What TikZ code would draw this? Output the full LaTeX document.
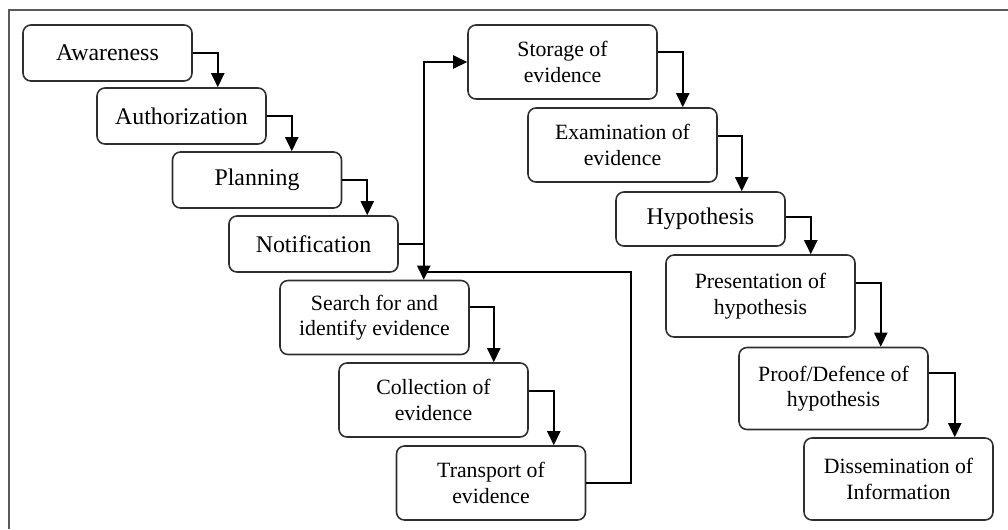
\documentclass[tikz,border=0pt]{standalone}
\usepackage{fontspec}
\setmainfont{Liberation Serif}
\usetikzlibrary{arrows.meta}
\definecolor{boxline}{HTML}{2E2E2E}
\definecolor{frameline}{HTML}{5A5A5A}

\begin{document}
\begin{tikzpicture}[x=0.02cm,y=-0.02cm]
    \tikzset{stage/.style={draw=boxline,line width=0.9pt,rounded corners=4.5pt,align=center,minimum width=3.38cm,minimum height=1.12cm,inner sep=2pt,font=\fontsize{13.6}{15}\selectfont},
      stagetwo/.style={stage,minimum width=3.78cm,minimum height=1.48cm,font=\fontsize{12.4}{14.6}\selectfont},
      stagetall/.style={stagetwo,minimum height=1.64cm},
      flowline/.style={draw=black,line width=0.9pt,-{Triangle[length=8pt,width=7.5pt]}}}
    \useasboundingbox (0,0) rectangle (1008,529);
    % frame, cut off at the right and bottom
    \draw[frameline,line width=1.1pt] (9,529) -- (9,10) -- (1008,10);
    % left column
    \node[stage] (aw) at (107.5,53) {Awareness};
    \node[stage] (au) at (181.5,116) {Authorization};
    \node[stage] (pl) at (257,180) {Planning};
    \node[stage] (no) at (313.5,244) {Notification};
    \node[stagetwo] (se) at (374.5,317.5) {Search for and\\identify evidence};
    \node[stagetwo] (co) at (433.5,400) {Collection of\\evidence};
    \node[stagetwo] (tr) at (491,483) {Transport of\\evidence};
    % right column
    \node[stagetwo] (st) at (562.5,62) {Storage of\\evidence};
    \node[stagetwo] (ex) at (622.5,145) {Examination of\\evidence};
    \node[stage,minimum height=1.08cm] (hy) at (700.5,219) {Hypothesis};
    \node[stagetall] (pr) at (760.5,296) {Presentation of\\hypothesis};
    \node[stagetall] (pf) at (833.5,388.5) {Proof/Defence of\\hypothesis};
    \node[stagetall] (di) at (898.5,479) {Dissemination of\\Information};
    % steps
    \draw[flowline] (aw.east) -| ([xshift=0.5cm]aw.east |- au.north);
    \draw[flowline] (au.east) -| ([xshift=0.5cm]au.east |- pl.north);
    \draw[flowline] (pl.east) -| ([xshift=0.5cm]pl.east |- no.north);
    \draw[flowline] (no.east) -| ([xshift=0.5cm]no.east |- se.north);
    \draw[flowline] ([yshift=0.21cm]se.east) -| ([xshift=0.48cm]se.east |- co.north);
    \draw[flowline] ([yshift=0.18cm]co.east) -| ([xshift=0.5cm]co.east |- tr.north);
    \draw[flowline] ([yshift=0.2cm]st.east) -| ([xshift=0.5cm]st.east |- ex.north);
    \draw[flowline] ([yshift=0.18cm]ex.east) -| ([xshift=0.48cm]ex.east |- hy.north);
    \draw[flowline] ([yshift=0.04cm]hy.east) -| ([xshift=0.5cm]hy.east |- pr.north);
    \draw[flowline] ([yshift=0.26cm]pr.east) -| ([xshift=0.5cm]pr.east |- pf.north);
    \draw[flowline] ([yshift=0.31cm]pf.east) -| ([xshift=0.52cm]pf.east |- di.north);
    % loop back from transport to storage
    \coordinate (back) at ([xshift=0.9cm]tr.east |- 0,272);
    \coordinate (join) at ([xshift=0.5cm]no.east |- 0,272);
    \draw[flowline] (tr.east) -| (back) -- (join) |- (st.west);
\end{tikzpicture}
\end{document}
